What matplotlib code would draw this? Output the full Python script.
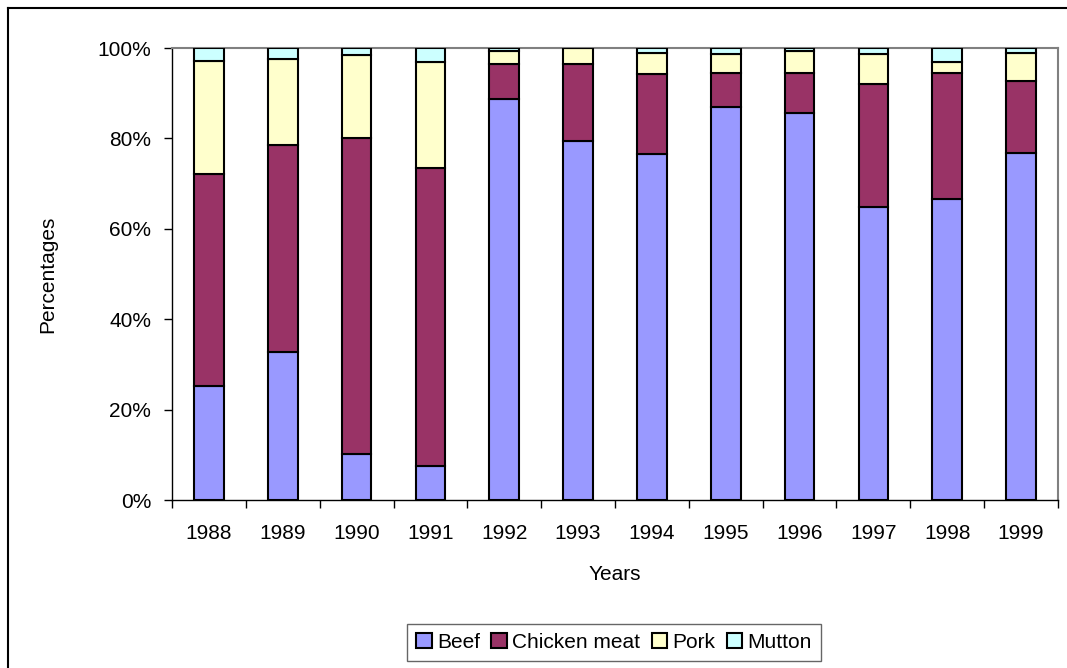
import numpy as np
import matplotlib.pyplot as plt
from matplotlib.lines import Line2D
from matplotlib.ticker import FixedLocator, FuncFormatter

# share of each meat in total consumption (%), per year
years = ["1988", "1989", "1990", "1991", "1992", "1993",
         "1994", "1995", "1996", "1997", "1998", "1999"]
beef = [25.2, 32.7, 10.2, 7.5, 88.7, 79.5, 76.5, 87.0, 85.7, 64.8, 66.6, 76.8]
chicken = [46.9, 45.8, 69.8, 65.9, 7.7, 16.9, 17.7, 7.5, 8.8, 27.2, 27.9, 16.0]
pork = [25.1, 19.1, 18.5, 23.4, 3.0, 3.6, 4.8, 4.1, 4.9, 6.6, 2.3, 6.2]
mutton = [2.8, 2.4, 1.5, 3.2, 0.6, 0.0, 1.0, 1.4, 0.6, 1.4, 3.2, 1.0]

series = [("Beef", beef, "#9999FF"),
          ("Chicken meat", chicken, "#993366"),
          ("Pork", pork, "#FFFFCC"),
          ("Mutton", mutton, "#CCFFFF")]

plt.rcParams["font.family"] = ["Liberation Sans", "DejaVu Sans"]
plt.rcParams["font.size"] = 15

W, H = 1067, 668
fig = plt.figure(figsize=(W / 100, H / 100), dpi=100)
ax = fig.add_axes([172 / W, 1 - 500 / H, 886 / W, 452 / H])

x = np.arange(len(years))
bottom = np.zeros(len(years))
handles = []
for name, vals, color in series:
    vals = np.array(vals, dtype=float)
    bars = ax.bar(x, vals, width=0.4, bottom=bottom, color=color,
                  edgecolor="black", linewidth=1.5, label=name, zorder=3)
    bottom += vals
    handles.append(bars)

ax.set_xlim(-0.5, len(years) - 0.5)
ax.set_ylim(0, 100)

# y axis: percent ticks pointing outward
ax.set_yticks(np.arange(0, 101, 20))
ax.yaxis.set_major_formatter(FuncFormatter(lambda v, p: f"{int(v)}%"))
ax.tick_params(axis="y", direction="out", length=6, width=1, pad=9,
               color="black")

# x axis: labels centred under bars, tick marks between categories
ax.set_xticks(x)
ax.set_xticklabels(years)
ax.xaxis.set_minor_locator(FixedLocator(np.arange(-0.5, len(years), 1.0)))
ax.tick_params(axis="x", which="major", length=0, pad=17)
ax.tick_params(axis="x", which="minor", direction="out", length=6, width=1,
               color="black")

for side in ["left", "bottom"]:
    ax.spines[side].set_color("black")
    ax.spines[side].set_linewidth(1)
for side in ["top", "right"]:
    ax.spines[side].set_color("#808080")
    ax.spines[side].set_linewidth(1.5)

ax.set_ylabel("Percentages")
ax.yaxis.set_label_coords((48 - 172) / 886, 0.5)
ax.yaxis.label.set_va("center")
ax.set_xlabel("Years")
ax.xaxis.set_label_coords(0.5, (500 - 575) / 452)
ax.xaxis.label.set_va("center")

leg = fig.legend(handles=handles, loc="center",
                 bbox_to_anchor=(614 / W, 1 - 642.5 / H),
                 ncol=4, frameon=True, fancybox=False, fontsize=15,
                 handlelength=0.75, handleheight=0.75, handletextpad=0.25,
                 columnspacing=0.55, borderpad=0.45, borderaxespad=0)
leg.get_frame().set_edgecolor("#404040")
leg.get_frame().set_linewidth(1)

# outer chart frame (top and left edges visible)
fig.add_artist(Line2D([8 / W, 1], [1 - 8 / H, 1 - 8 / H],
                      transform=fig.transFigure, color="black", lw=1.5))
fig.add_artist(Line2D([8 / W, 8 / W], [0, 1 - 8 / H],
                      transform=fig.transFigure, color="black", lw=1.5))

fig.savefig("out.png", dpi=100)
